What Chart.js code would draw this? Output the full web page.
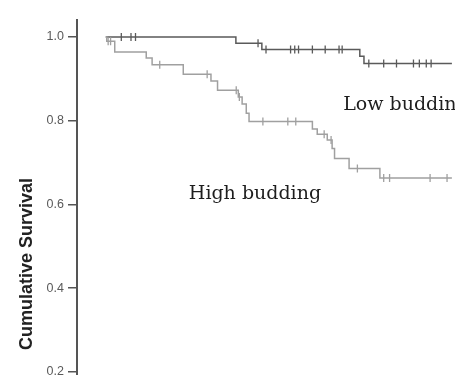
<!DOCTYPE html>
<html>
<head>
<meta charset="utf-8">
<script src="https://cdn.jsdelivr.net/npm/chart.js@4.4.1/dist/chart.umd.min.js"></script>
<style>
  html, body { margin: 0; padding: 0; background: #fff; overflow: hidden; }
  #wrap { width: 455px; height: 375px; overflow: hidden; position: relative; }
  canvas { display: block; }
</style>
</head>
<body>
<div id="wrap"><canvas id="km" width="560" height="520"></canvas></div>
<script>
// survival data, time in months
const yTicks = [0.0, 0.2, 0.4, 0.6, 0.8, 1.0];

const lowTimes = [0, 37.6, 45.1, 73.4, 74.6, 100];
const lowSurv = [1.0, 0.985, 0.970, 0.954, 0.937, 0.937];
const lowCensored = [4.5, 7.3, 8.6, 44.0, 46.3, 53.4, 54.6, 55.7, 59.7, 63.4, 67.4, 68.3,
    76.0, 80.3, 84.0, 88.9, 90.6, 92.6, 94.0];

const highTimes = [0, 0.3, 2.6, 11.7, 13.4, 22.4, 30.4, 32.3, 38.3, 39.4, 40.6, 41.4,
    59.7, 61.1, 64.0, 65.4, 66.1, 70.3, 79.2, 100];
const highSurv = [1.0, 0.990, 0.964, 0.950, 0.934, 0.911, 0.895, 0.873, 0.857, 0.840, 0.818, 0.798,
    0.780, 0.768, 0.754, 0.734, 0.710, 0.686, 0.663, 0.663];
const highCensored = [0.7, 1.4, 15.6, 29.3, 37.7, 38.6, 45.4, 52.6, 54.9, 63.1, 65.1, 72.7,
    80.3, 82.0, 93.7, 98.6];

const groupLabels = ['Low budding', 'High budding'];

function survAt(times, surv, t) {
    let s = surv[0];
    for (let i = 0; i < times.length; i++) {
        if (times[i] <= t) s = surv[i];
    }
    return s;
}

const toPoints = (times, surv) => times.map((t, i) => ({x: t, y: surv[i]}));
const censorPoints = (cens, times, surv) => cens.map(t => ({x: t, y: survAt(times, surv, t)}));

const lowColor = '#5a5a5a';
const highColor = '#a0a0a0';

// group names written on the plot
const labelPlugin = {
    id: 'groupLabels',
    afterDraw(chart) {
        const {ctx, scales: {x, y}} = chart;
        ctx.save();
        ctx.font = '19px "DejaVu Serif"';
        ctx.fillStyle = '#1e1e1e';
        ctx.textBaseline = 'alphabetic';
        ctx.fillText(groupLabels[0], x.getPixelForValue(68.6), y.getPixelForValue(0.826));
        ctx.fillText(groupLabels[1], x.getPixelForValue(24.0), y.getPixelForValue(0.613));
        ctx.restore();
    }
};

new Chart(document.getElementById('km').getContext('2d'), {
    type: 'line',
    data: {
        datasets: [
            {
                label: groupLabels[1],
                data: toPoints(highTimes, highSurv),
                borderColor: highColor,
                borderWidth: 1.5,
                stepped: true,
                pointRadius: 0,
                fill: false,
            },
            {
                label: groupLabels[1] + ' censored',
                data: censorPoints(highCensored, highTimes, highSurv),
                showLine: false,
                pointStyle: 'line',
                rotation: 90,
                pointRadius: 4,
                borderColor: highColor,
                pointBorderWidth: 1.3,
            },
            {
                label: groupLabels[0],
                data: toPoints(lowTimes, lowSurv),
                borderColor: lowColor,
                borderWidth: 1.5,
                stepped: true,
                pointRadius: 0,
                fill: false,
            },
            {
                label: groupLabels[0] + ' censored',
                data: censorPoints(lowCensored, lowTimes, lowSurv),
                showLine: false,
                pointStyle: 'line',
                rotation: 90,
                pointRadius: 4,
                borderColor: lowColor,
                pointBorderWidth: 1.3,
            },
        ],
    },
    options: {
        responsive: false,
        animation: false,
        devicePixelRatio: 1,
        layout: { padding: { top: 20, right: 0, bottom: 12, left: 0 } },
        plugins: {
            legend: { display: false },
            tooltip: { enabled: false },
        },
        scales: {
            x: {
                type: 'linear',
                display: false,
                min: -8.3,
                max: 129.7,
            },
            y: {
                type: 'linear',
                min: -0.1248,
                max: 1.0406,
                afterBuildTicks: (axis) => {
                    axis.ticks = yTicks.map(v => ({value: v}));
                },
                afterFit: (axis) => {
                    axis.width = 77;
                },
                ticks: {
                    color: '#5a5a5a',
                    padding: 4,
                    font: { family: '"Liberation Sans", Arial, sans-serif', size: 12.5 },
                    callback: (v) => v.toFixed(1),
                },
                grid: {
                    drawOnChartArea: false,
                    drawTicks: true,
                    tickLength: 9,
                    color: '#555',
                    lineWidth: 1.5,
                },
                border: { display: true, color: '#555', width: 2 },
                title: {
                    display: true,
                    text: 'Cumulative Survival',
                    color: '#222',
                    padding: { top: 16, bottom: 0 },
                    font: { family: '"Liberation Sans", Arial, sans-serif', size: 18, weight: 'bold' },
                },
            },
        },
    },
    plugins: [labelPlugin],
});
</script>
</body>
</html>
